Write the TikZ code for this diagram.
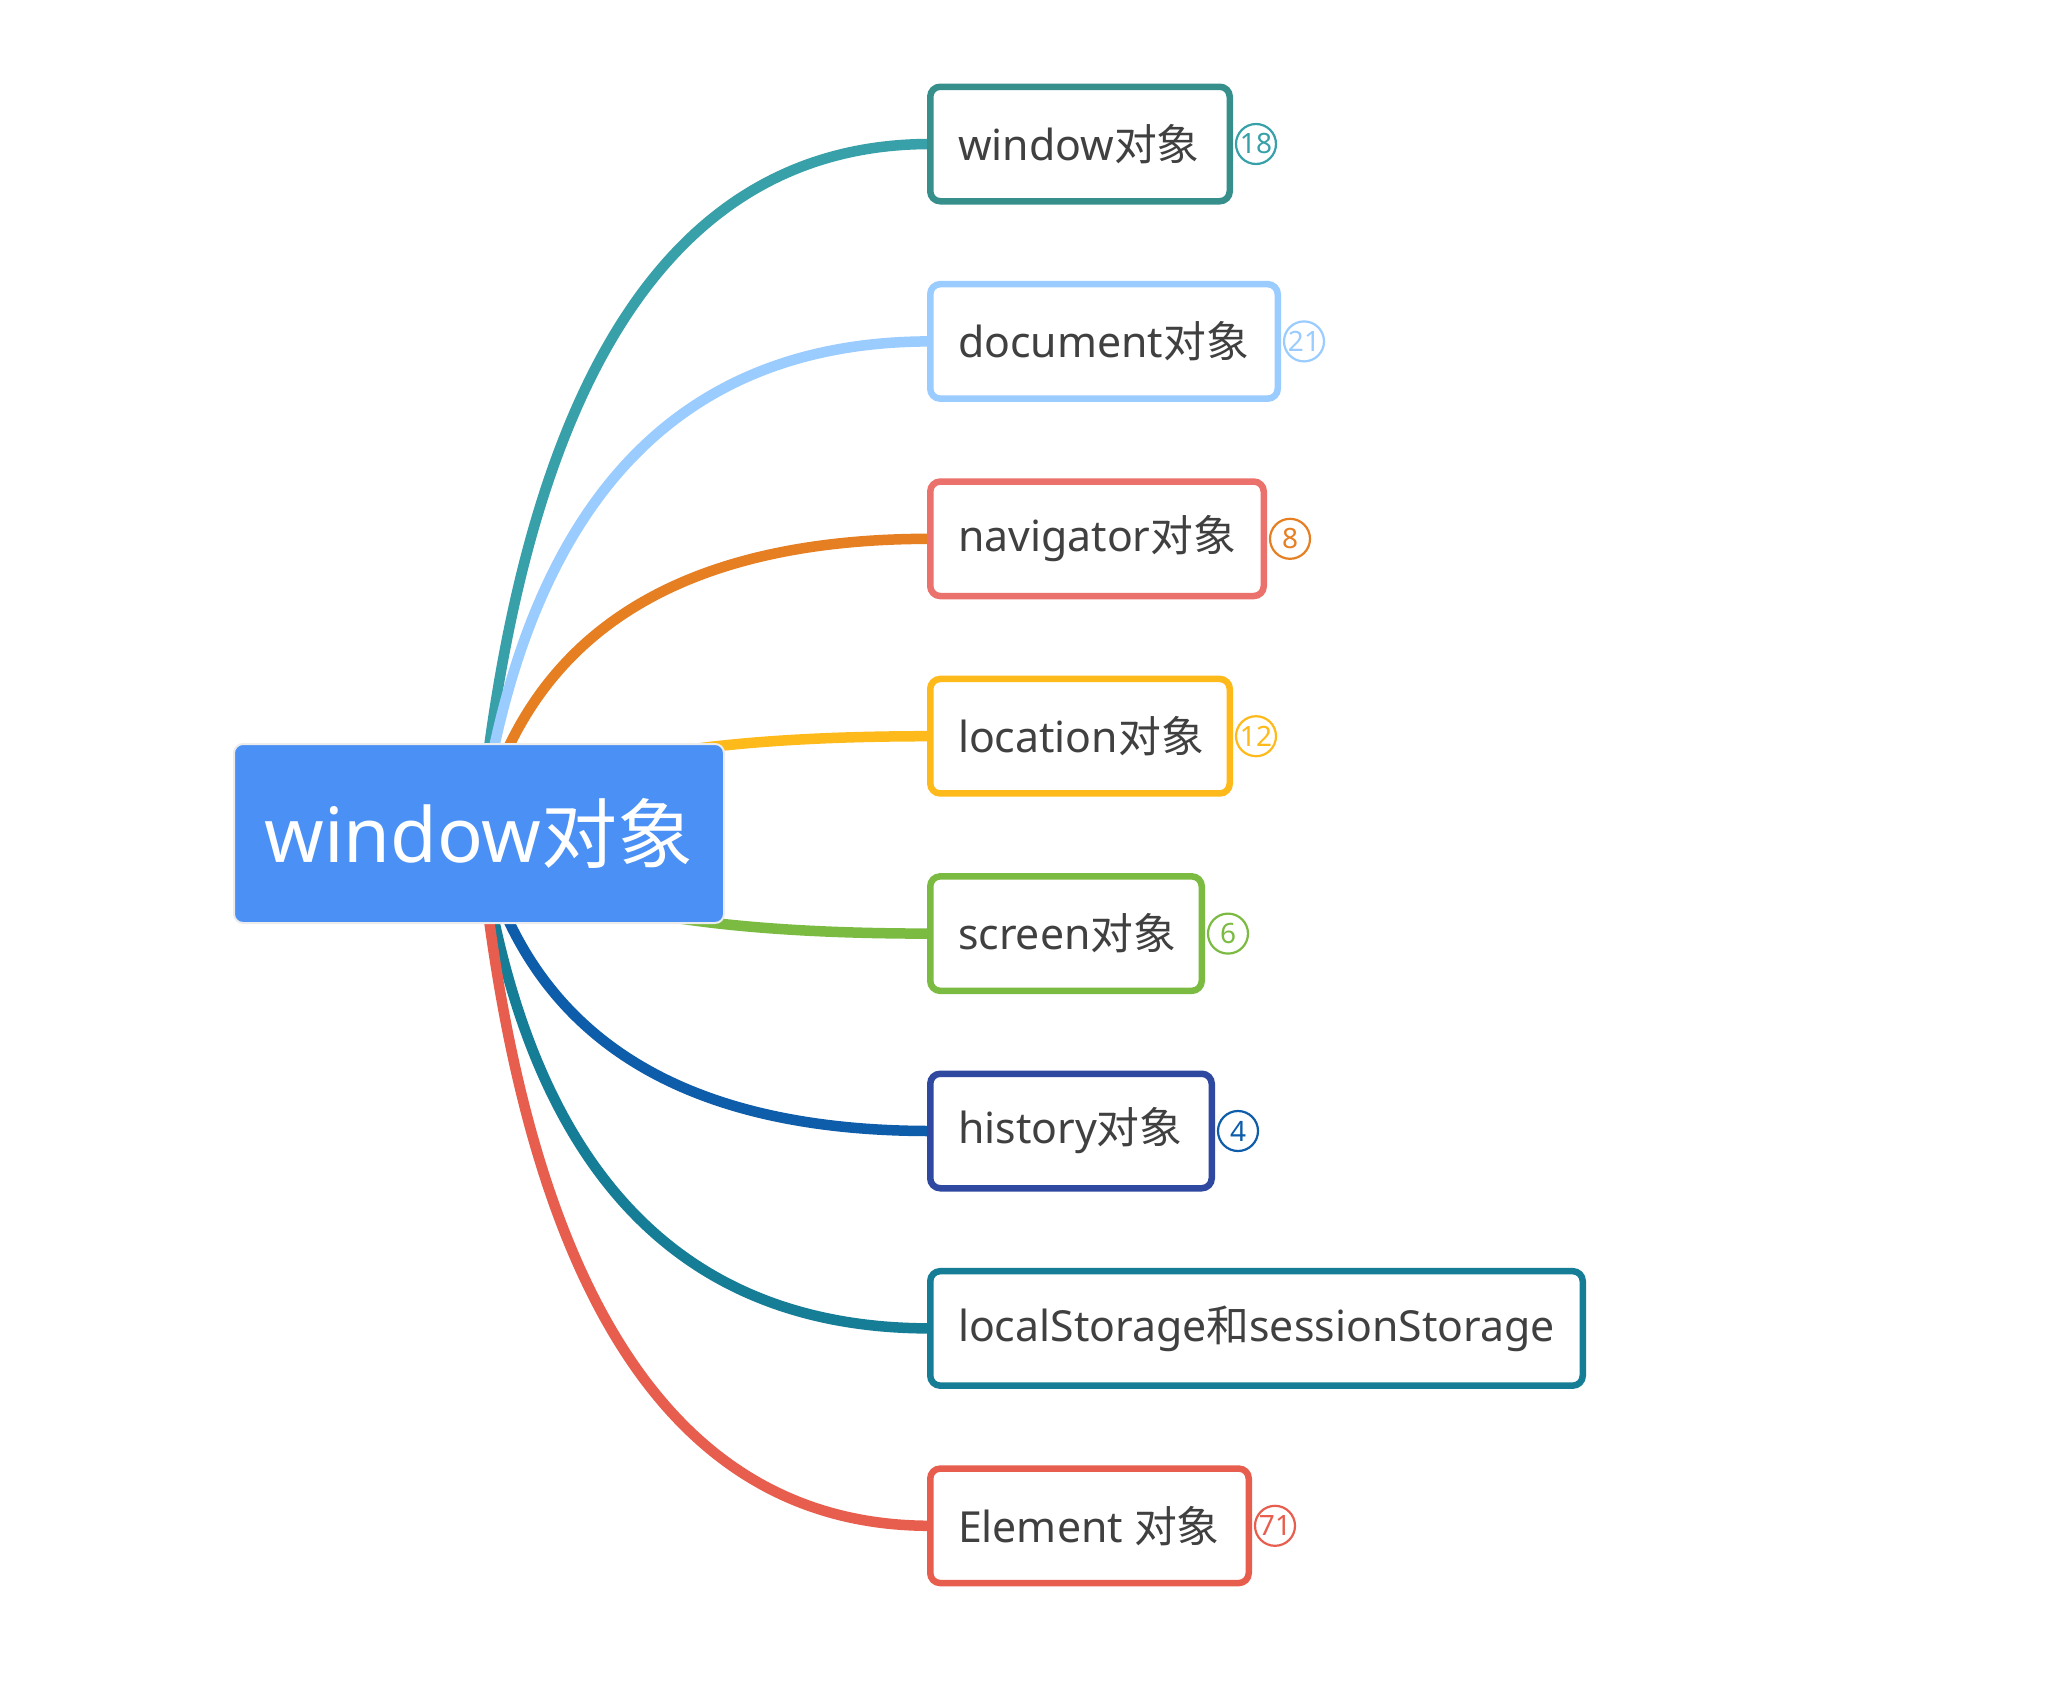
\documentclass[tikz,border=0pt]{standalone}
\usepackage{fontspec}
\setmainfont{Noto Sans}
\newfontfamily\cjk{Noto Sans CJK SC}
\usetikzlibrary{calc}
\pgfdeclarelayer{background}
\pgfsetlayers{background,main}

% text and root colours
\definecolor{txt}{HTML}{404040}
\definecolor{rootfill}{HTML}{4A90F5}
\definecolor{rootedge}{HTML}{ECECEC}
% branch lines
\definecolor{lnA}{HTML}{37A0A9}
\definecolor{lnB}{HTML}{9ACCFF}
\definecolor{lnC}{HTML}{E67E22}
\definecolor{lnD}{HTML}{FDBA1A}
\definecolor{lnE}{HTML}{7CBB42}
\definecolor{lnF}{HTML}{0D5DAA}
\definecolor{lnG}{HTML}{167D96}
\definecolor{lnH}{HTML}{E85E4E}
% topic borders
\definecolor{bxA}{HTML}{378F8C}
\definecolor{bxC}{HTML}{EA716C}
\definecolor{bxF}{HTML}{2F48A0}

\begin{document}
\begin{tikzpicture}[x=1pt,y=-1pt,
  topicbox/.style={draw=#1, line width=6.5pt, rounded corners=10pt, fill=white,
    minimum height=114.5pt, inner xsep=27.75pt, inner ysep=0pt, outer sep=0pt,
    anchor=west, text=txt, font=\fontsize{42.8}{52}\selectfont},
  badge/.style={draw=#1, text=#1, circle, line width=2.2pt, minimum size=40pt,
    inner sep=0pt, font=\fontsize{28}{32}\selectfont},
  branch/.style={draw=#1, line width=10.5pt},
]
\useasboundingbox (0,0) rectangle (2054,1692);

% central topic
\node[fill=rootfill, draw=rootedge, line width=2pt, rounded corners=9pt,
  minimum width=490pt, minimum height=179pt, text=white,
  font=\fontsize{76}{90}\selectfont] (root) at (479,833.5) {\raisebox{-4pt}{window{\cjk 对象}}};

% main topics
\node[topicbox=bxA] (t1) at (930.25,144)    {\makebox[244pt][l]{window{\cjk 对象}}};
\node[topicbox=lnB] (t2) at (930.25,341.4)  {\makebox[292pt][l]{document{\cjk 对象}}};
\node[topicbox=bxC] (t3) at (930.25,538.8)  {\makebox[278pt][l]{navigator{\cjk 对象}}};
\node[topicbox=lnD] (t4) at (930.25,736.2)  {\makebox[244pt][l]{location{\cjk 对象}}};
\node[topicbox=lnE] (t5) at (930.25,933.6)  {\makebox[216pt][l]{screen{\cjk 对象}}};
\node[topicbox=bxF] (t6) at (930.25,1131)   {\makebox[226pt][l]{history{\cjk 对象}}};
\node[topicbox=lnG] (t7) at (930.25,1328.4) {\makebox[597pt][l]{localStorage{\cjk 和}sessionStorage}};
\node[topicbox=lnH] (t8) at (930.25,1525.8) {\makebox[263pt][l]{Element {\cjk 对象}}};

% sub-topic counters
\node[badge=lnA] (b1) at ($(t1.east)+(26.25,0)$) {18};
\node[badge=lnB] (b2) at ($(t2.east)+(26.25,0)$) {21};
\node[badge=lnC] (b3) at ($(t3.east)+(26.25,0)$) {8};
\node[badge=lnD] (b4) at ($(t4.east)+(26.25,0)$) {12};
\node[badge=lnE] (b5) at ($(t5.east)+(26.25,0)$) {6};
\node[badge=lnF] (b6) at ($(t6.east)+(26.25,0)$) {4};
\node[badge=lnH] (b8) at ($(t8.east)+(26.25,0)$) {71};

% white ground and curved branches from the centre, behind the topics
\begin{pgfonlayer}{background}
\fill[white] (0,0) rectangle (2054,1692);
\foreach \n/\c in {t1/lnA, t2/lnB, t3/lnC, t4/lnD, t5/lnE, t6/lnF, t7/lnG, t8/lnH} {
  \coordinate (q) at ($(root.center)!0.15!(\n.west)$);
  \coordinate (k) at (q |- \n.west);
  \draw[branch=\c] (root.center) .. controls ($(root.center)!2/3!(k)$)
    and ($(\n.west)!2/3!(k)$) .. (\n.west);
}
\end{pgfonlayer}
\end{tikzpicture}
\end{document}
